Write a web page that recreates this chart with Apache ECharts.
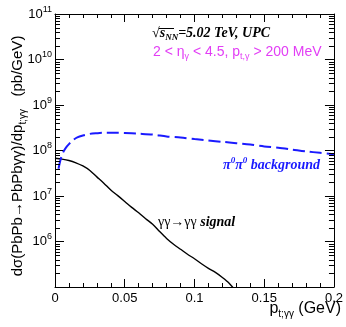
<!DOCTYPE html>
<html>
<head>
<meta charset="utf-8">
<script src="https://cdn.jsdelivr.net/npm/echarts@6/dist/echarts.min.js"></script>
<style>html,body{margin:0;padding:0;background:#fff}#c{width:346px;height:327px}</style>
</head>
<body>
<div id="c"></div>
<script>
// pT (GeV) and dσ/dpT (pb/GeV)
var signalPt = [0, 0.005, 0.01, 0.015, 0.02, 0.025, 0.03, 0.035, 0.04, 0.045, 0.05, 0.055, 0.06, 0.065, 0.07, 0.075, 0.08, 0.085, 0.09, 0.095, 0.1, 0.105, 0.11, 0.115, 0.12, 0.125, 0.13];
var signalVal = [6.76e7, 6.46e7, 6.03e7, 5.37e7, 4.57e7, 3.63e7, 2.63e7, 1.91e7, 1.35e7, 1.02e7, 7.59e6, 5.62e6, 4.27e6, 3.16e6, 2.40e6, 1.66e6, 1.17e6, 8.71e5, 6.76e5, 5.25e5, 4.17e5, 3.24e5, 2.57e5, 2.09e5, 1.62e5, 1.20e5, 7.9e4];
var bkgPt = [0.0025, 0.004, 0.006, 0.008, 0.01, 0.013, 0.016, 0.02, 0.025, 0.03, 0.035, 0.04, 0.045, 0.05, 0.06, 0.07, 0.08, 0.09, 0.1, 0.11, 0.12, 0.13, 0.14, 0.15, 0.16, 0.17, 0.18, 0.19, 0.2];
var bkgVal = [3.98e7, 6.31e7, 9.33e7, 1.17e8, 1.38e8, 1.70e8, 1.95e8, 2.14e8, 2.32e8, 2.40e8, 2.45e8, 2.45e8, 2.45e8, 2.43e8, 2.34e8, 2.24e8, 2.04e8, 1.93e8, 1.78e8, 1.66e8, 1.55e8, 1.45e8, 1.35e8, 1.23e8, 1.15e8, 1.05e8, 9.55e7, 8.91e7, 8.32e7];
var xTicks = [0, 0.05, 0.1, 0.15, 0.2];
var xTickLabels = ['0', '0.05', '0.1', '0.15', '0.2'];
var yDecades = [5, 6, 7, 8, 9, 10, 11];

var X_MIN = 0, X_MAX = 0.2, Y_MIN = 1e5, Y_MAX = 1e11;

var minorVals = [];
for (var d = 5; d < 11; d++) for (var k = 2; k <= 9; k++) minorVals.push(k * Math.pow(10, d));

function zip(a, b) { return a.map(function (v, i) { return [v, b[i]]; }); }

var chart = echarts.init(document.getElementById('c'), null, {renderer: 'canvas'});
var SANS = 'Liberation Sans, Arial, sans-serif';
var SERIF = 'Liberation Serif, Times New Roman, serif';

var xAxisBase = {
  type: 'value', min: X_MIN, max: X_MAX, interval: 0.05,
  axisLine: {show: true, onZero: false, lineStyle: {color: '#000', width: 1}},
  axisTick: {show: true, inside: true, length: 8, lineStyle: {color: '#000'}},
  minorTick: {show: true, splitNumber: 5, length: 4, lineStyle: {color: '#000'}},
  splitLine: {show: false}
};
var yAxisBase = {
  type: 'log', logBase: 10, min: Y_MIN, max: Y_MAX,
  axisLine: {show: true, onZero: false, lineStyle: {color: '#000', width: 1}},
  axisTick: {show: true, inside: true, length: 9, lineStyle: {color: '#000'}},
  minorTick: {show: false},
  splitLine: {show: false}
};

var option = {
  animation: false,
  backgroundColor: '#fff',
  grid: {left: 55, right: 8, top: 14, bottom: 40, containLabel: false},
  xAxis: [
    Object.assign({}, xAxisBase, {
      position: 'bottom',
      axisLabel: {show: true, margin: 5, color: '#000', fontFamily: SANS, fontSize: 13,
        formatter: function (v) {
          for (var i = 0; i < xTicks.length; i++) if (Math.abs(v - xTicks[i]) < 1e-9) return xTickLabels[i];
          return '';
        }}
    }),
    Object.assign({}, xAxisBase, {position: 'top', axisLabel: {show: false}})
  ],
  yAxis: [
    Object.assign({}, yAxisBase, {
      position: 'left',
      axisLabel: {show: true, margin: 3, color: '#000', fontFamily: SANS, fontSize: 13,
        formatter: function (v) {
          var e = Math.round(Math.log10(v));
          if (e <= yDecades[0]) return '';
          return '{b|10}{s|' + e + '}';
        },
        rich: {
          b: {fontFamily: SANS, fontSize: 13, color: '#000', lineHeight: 18},
          s: {fontFamily: SANS, fontSize: 9, color: '#000', verticalAlign: 'top', lineHeight: 10}
        }}
    }),
    Object.assign({}, yAxisBase, {position: 'right', axisLabel: {show: false}})
  ],
  series: [
    {
      type: 'line', name: 'signal', xAxisIndex: 0, yAxisIndex: 0,
      data: zip(signalPt, signalVal), showSymbol: false, smooth: 0.3,
      lineStyle: {color: '#000', width: 1.4}, clip: true, z: 3
    },
    {
      type: 'line', name: 'background', xAxisIndex: 0, yAxisIndex: 0,
      data: zip(bkgPt, bkgVal), showSymbol: false, smooth: 0.3,
      lineStyle: {color: '#1a1aff', width: 2, type: [12, 5]}, clip: true, z: 3
    },
    {
      type: 'custom', xAxisIndex: 0, yAxisIndex: 0, silent: true, clip: false,
      data: minorVals.map(function (v) { return [X_MIN, v]; }),
      renderItem: function (params, api) {
        var v = api.value(1);
        var pl = api.coord([X_MIN, v]);
        var pr = api.coord([X_MAX, v]);
        var st = {stroke: '#000', lineWidth: 1};
        return {type: 'group', children: [
          {type: 'line', shape: {x1: pl[0], y1: Math.round(pl[1]) + 0.5, x2: pl[0] + 5, y2: Math.round(pl[1]) + 0.5}, style: st},
          {type: 'line', shape: {x1: pr[0] - 5, y1: Math.round(pr[1]) + 0.5, x2: pr[0], y2: Math.round(pr[1]) + 0.5}, style: st}
        ]};
      },
      z: 4
    }
  ],
  graphic: [
    {
      type: 'text', left: 152, top: 26,
      style: {
        text: '{r|√}{i|s}{n|NN}{i|=5.02 TeV, UPC}',
        rich: {
          r: {fontFamily: SERIF, fontSize: 14, fill: '#000', lineHeight: 18},
          i: {fontFamily: SERIF, fontSize: 14, fontStyle: 'italic', fontWeight: 'bold', fill: '#000', lineHeight: 18},
          n: {fontFamily: SERIF, fontSize: 9, fontStyle: 'italic', fontWeight: 'bold', fill: '#000', verticalAlign: 'bottom', lineHeight: 9}
        }
      }
    },
    {
      type: 'line', shape: {x1: 159, y1: 28.5, x2: 174, y2: 28.5}, style: {stroke: '#000', lineWidth: 1}
    },
    {
      type: 'text', left: 153, top: 45,
      style: {
        text: '{t|2 < η}{s|γ}{t| < 4.5, p}{s|t,γ}{t| > 200 MeV}',
        rich: {
          t: {fontFamily: SANS, fontSize: 14, fill: '#e23ef5', lineHeight: 18},
          s: {fontFamily: SANS, fontSize: 9, fill: '#e23ef5', verticalAlign: 'bottom', lineHeight: 9}
        }
      }
    },
    {
      type: 'text', left: 223, top: 156,
      style: {
        text: '{t|π}{s|0}{t|π}{s|0}{t| background}',
        rich: {
          t: {fontFamily: SERIF, fontSize: 14, fontStyle: 'italic', fontWeight: 'bold', fill: '#1a1aff', lineHeight: 18},
          s: {fontFamily: SERIF, fontSize: 9, fontStyle: 'italic', fontWeight: 'bold', fill: '#1a1aff', verticalAlign: 'top', lineHeight: 12}
        }
      }
    },
    {
      type: 'text', left: 158, top: 215,
      style: {
        text: '{g|γγ→γγ}{t| signal}',
        rich: {
          g: {fontFamily: SERIF, fontSize: 14, fill: '#000', lineHeight: 18},
          t: {fontFamily: SERIF, fontSize: 14, fontStyle: 'italic', fontWeight: 'bold', fill: '#000', lineHeight: 18}
        }
      }
    },
    {
      type: 'text', right: 5, top: 301,
      style: {
        text: '{t|p}{s|t;γγ}{t| (GeV)}',
        rich: {
          t: {fontFamily: SANS, fontSize: 16, fill: '#000', lineHeight: 20},
          s: {fontFamily: SANS, fontSize: 10, fill: '#000', verticalAlign: 'bottom', lineHeight: 10}
        }
      }
    },
    {
      type: 'text', x: 18, y: 156, rotation: Math.PI / 2,
      style: {
        text: '{t|dσ(PbPb→PbPbγγ)/dp}{s|t;γγ}{t|   (pb/GeV)}',
        align: 'center', verticalAlign: 'middle',
        rich: {
          t: {fontFamily: SANS, fontSize: 15, fill: '#000', lineHeight: 20},
          s: {fontFamily: SANS, fontSize: 10, fill: '#000', verticalAlign: 'bottom', lineHeight: 10}
        }
      }
    }
  ]
};
chart.setOption(option);
</script>
</body>
</html>
